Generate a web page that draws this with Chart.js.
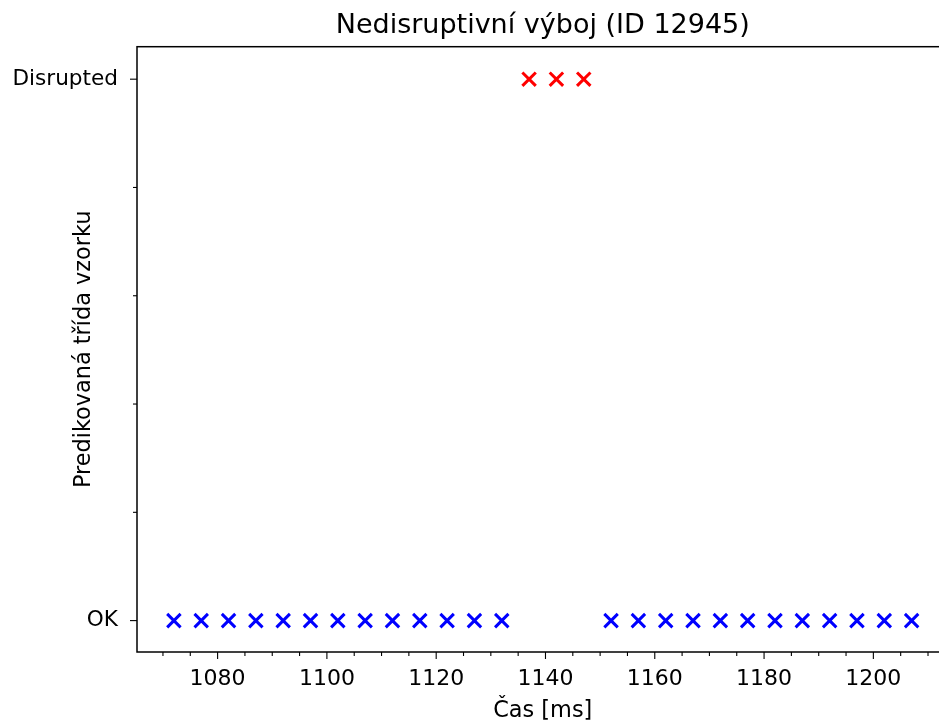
<!DOCTYPE html>
<html>
<head>
<meta charset="utf-8">
<script src="https://cdn.jsdelivr.net/npm/chart.js@4"></script>
<style>
  html, body { margin: 0; padding: 0; background: #fff; overflow: hidden; }
</style>
</head>
<body>
<canvas id="myChart" width="961" height="725"></canvas>
<script>
// predikce pro jednotlivé vzorky (čas v ms)
const okTimes = [1072, 1077, 1082, 1087, 1092, 1097, 1102, 1107, 1112, 1117, 1122, 1127, 1132,
                 1152, 1157, 1162, 1167, 1172, 1177, 1182, 1187, 1192, 1197, 1202, 1207];
const disruptedTimes = [1137, 1142, 1147];
const classNames = ['OK', 'Disrupted'];
const xTickValues = [1070, 1075, 1080, 1085, 1090, 1095, 1100, 1105, 1110, 1115, 1120, 1125, 1130, 1135,
                     1140, 1145, 1150, 1155, 1160, 1165, 1170, 1175, 1180, 1185, 1190, 1195, 1200, 1205, 1210];
const yTickValues = [0, 0.2, 0.4, 0.6, 0.8, 1];

const FONT = 'DejaVu Sans';

// ramecek + hlavni/vedlejsi carky os
const frame = {
    id: 'frame',
    afterDraw(chart) {
        const {ctx, chartArea: a, scales} = chart;
        ctx.save();
        ctx.strokeStyle = '#000';
        ctx.lineWidth = 1.1;
        scales.x.ticks.forEach(t => {
            const px = scales.x.getPixelForValue(t.value);
            const len = t.value % 20 === 0 ? 7 : 4;
            ctx.beginPath();
            ctx.moveTo(px, a.bottom);
            ctx.lineTo(px, a.bottom + len);
            ctx.stroke();
        });
        scales.y.ticks.forEach(t => {
            const py = scales.y.getPixelForValue(t.value);
            const len = (t.value === 0 || t.value === 1) ? 7 : 4;
            ctx.beginPath();
            ctx.moveTo(a.left, py);
            ctx.lineTo(a.left - len, py);
            ctx.stroke();
        });
        ctx.lineWidth = 1.5;
        ctx.strokeRect(a.left, a.top, a.right - a.left, a.bottom - a.top);
        ctx.restore();
    }
};

const ctx = document.getElementById('myChart');

new Chart(ctx, {
    type: 'scatter',
    data: {
        datasets: [{
            label: classNames[0],
            data: okTimes.map(t => ({x: t, y: 0})),
            pointStyle: 'crossRot',
            pointRadius: 9.5,
            pointBorderWidth: 3,
            borderColor: '#0000ff',
            backgroundColor: '#0000ff'
        }, {
            label: classNames[1],
            data: disruptedTimes.map(t => ({x: t, y: 1})),
            pointStyle: 'crossRot',
            pointRadius: 9.5,
            pointBorderWidth: 3,
            borderColor: '#ff0000',
            backgroundColor: '#ff0000'
        }]
    },
    options: {
        responsive: false,
        animation: false,
        events: [],
        layout: { padding: 0 },
        plugins: {
            legend: { display: false },
            tooltip: { enabled: false },
            title: {
                display: true,
                fullSize: false,
                text: 'Nedisruptivní výboj (ID 12945)',
                color: '#000',
                font: { family: FONT, size: 27, weight: 'normal', lineHeight: 1.2 },
                padding: { top: 10, bottom: 4.3 }
            }
        },
        scales: {
            x: {
                type: 'linear',
                min: 1065.25,
                max: 1213.75,
                afterBuildTicks: s => { s.ticks = xTickValues.map(v => ({value: v})); },
                afterFit: s => { s.height = 73; },
                grid: { display: true, drawOnChartArea: false, drawTicks: true, tickLength: 7, tickColor: 'rgba(0,0,0,0)' },
                border: { display: false },
                ticks: {
                    autoSkip: false,
                    maxRotation: 0,
                    padding: 7,
                    color: '#000',
                    font: { family: FONT, size: 22 },
                    callback: v => (v % 20 === 0 ? String(v) : '')
                },
                title: {
                    display: true,
                    text: 'Čas [ms]',
                    color: '#000',
                    font: { family: FONT, size: 22.4, lineHeight: 1.2 },
                    padding: { top: 0, bottom: 0 }
                }
            },
            y: {
                type: 'linear',
                min: -0.058,
                max: 1.06,
                afterBuildTicks: s => { s.ticks = yTickValues.map(v => ({value: v})); },
                afterFit: s => { s.width = 137; },
                grid: { display: true, drawOnChartArea: false, drawTicks: true, tickLength: 7, tickColor: 'rgba(0,0,0,0)' },
                border: { display: false },
                ticks: {
                    autoSkip: false,
                    padding: 12,
                    color: '#000',
                    font: { family: FONT, size: 21.6 },
                    callback: v => (v === 0 ? classNames[0] : v === 1 ? classNames[1] : '')
                },
                title: {
                    display: true,
                    text: 'Predikovaná třída vzorku',
                    color: '#000',
                    font: { family: FONT, size: 22.4, lineHeight: 1.2 },
                    padding: { top: 70.6, bottom: 0 }
                }
            }
        }
    },
    plugins: [frame]
});
</script>
</body>
</html>
